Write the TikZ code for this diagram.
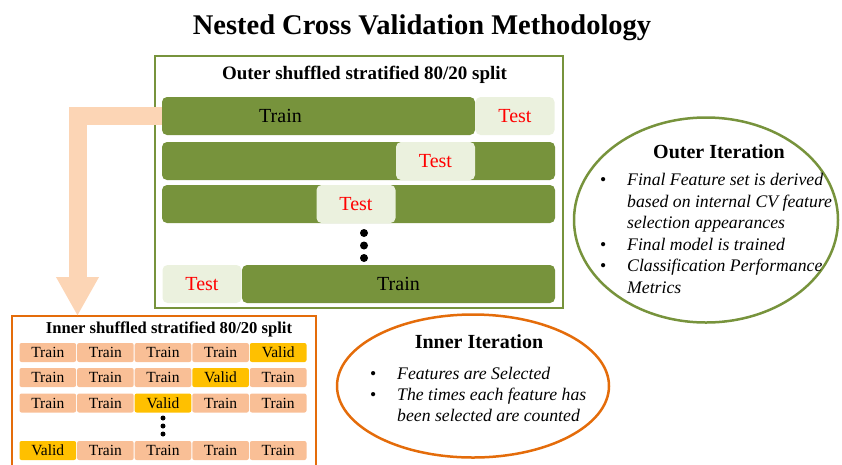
\documentclass[tikz,border=0pt]{standalone}
\usepackage{fontspec}
\setmainfont{Liberation Serif}
\usetikzlibrary{shapes.geometric,arrows.meta}
\definecolor{olive}{HTML}{77933C}
\definecolor{testfill}{HTML}{EBF1DE}
\definecolor{peach}{HTML}{FCD5B5}
\definecolor{orangeline}{HTML}{E46C0A}
\definecolor{cellfill}{HTML}{F9BF96}
\definecolor{validfill}{HTML}{FFC000}
\begin{document}
\begin{tikzpicture}[x=1pt,y=-1pt,
  bar/.style={fill=olive, rounded corners=5pt, inner sep=0pt, minimum height=38pt,
              font=\fontsize{20}{20}\selectfont},
  testbox/.style={fill=testfill, rounded corners=5pt, inner sep=0pt, minimum height=38pt,
              minimum width=79pt, text=red, font=\fontsize{20}{20}\selectfont},
  cell/.style={fill=cellfill, rounded corners=2pt, inner sep=0pt, minimum width=56.6pt,
              minimum height=19pt, font=\fontsize{15.5}{15.5}\selectfont},
  valid/.style={cell, fill=validfill},
  heading/.style={font=\fontsize{20}{20}\selectfont\bfseries, inner sep=0pt},
  item/.style={anchor=west, inner sep=0pt, text height=0.7em, text depth=0.2em,
              font=\fontsize{17.7}{17.7}\selectfont\itshape},
  bullet/.style={item, font=\fontsize{17.7}{17.7}\selectfont},
  dot/.style={circle, fill=black, inner sep=0pt, minimum size=#1}
]
\useasboundingbox (0,0) rectangle (842,464);

% title
\node[font=\fontsize{28.5}{28.5}\selectfont\bfseries, inner sep=0pt] (title) at (422,28)
  {Nested Cross Validation Methodology};

% outer split panel
\draw[olive, line width=2.5pt] (155,56) rectangle (563,308);
\node[font=\fontsize{19}{19}\selectfont\bfseries, inner sep=0pt] (outerhead) at (364.5,75)
  {Outer shuffled stratified 80/20 split};

% fold 1: test on the right
\node[bar, minimum width=313pt, label={[xshift=-38pt, font=\fontsize{20}{20}\selectfont]center:Train}]
  (r1train) at (318.5,116) {};
\node[testbox] (r1test) at (515,116) {Test};
% fold 2
\node[bar, minimum width=393pt] (r2bar) at (358.5,161) {};
\node[testbox] (r2test) at (435.5,161) {Test};
% fold 3
\node[bar, minimum width=393pt] (r3bar) at (358.5,204) {};
\node[testbox] (r3test) at (356,204) {Test};
% more folds
\node[dot=8pt] (od1) at (364,233) {};
\node[dot=8pt] (od2) at (364,245.5) {};
\node[dot=8pt] (od3) at (364,258) {};
% last fold: test on the left
\node[testbox] (r4test) at (202,284) {Test};
\node[bar, minimum width=313pt] (r4train) at (398.5,284) {Train};

% inner split panel (runs off the bottom)
\draw[orangeline, line width=2.5pt] (12,470) |- (316,316) -- (316,470);
\node[font=\fontsize{16.6}{16.6}\selectfont\bfseries, inner sep=0pt] (innerhead) at (169,329)
  {Inner shuffled stratified 80/20 split};

% inner folds: each row lists the position of the validation block
\foreach \row/\y/\v in {1/352.5/5, 2/377.5/4, 3/403/3, 4/450.5/1}{
  \foreach \col in {1,...,5}{
    \pgfmathsetmacro\cx{47.8+57.6*(\col-1)}
    \ifnum\col=\v
      \node[valid] (c\row\col) at (\cx,\y) {Valid};
    \else
      \node[cell] (c\row\col) at (\cx,\y) {Train};
    \fi
  }
}
\node[dot=5pt] (id1) at (163,418) {};
\node[dot=5pt] (id2) at (163,426) {};
\node[dot=5pt] (id3) at (163,434) {};

% hand-off from the outer training set to the inner split
\coordinate (drop) at (77.5,316);
\draw[peach, line width=18pt, -{Triangle[width=40pt, length=39pt]}]
  (r1train.west) -| (drop);

% inner iteration summary
\node[ellipse, draw=orangeline, line width=2.5pt, minimum width=272pt, minimum height=143pt,
      inner sep=0pt] (innerell) at (473,386) {};
\node[heading] (innertitle) at (479,342) {Inner Iteration};
\foreach \b/\txt/\y [count=\i] in {1/Features are Selected/377,
                                   1/The times each feature has/398,
                                   0/been selected are counted/419}{
  \node[item] (il\i) at (397,\y) {\txt};
  \ifnum\b=1 \node[bullet] (ib\i) at (370,\y) {•}; \fi
}

% outer iteration summary
\node[ellipse, draw=olive, line width=2.5pt, minimum width=264pt, minimum height=205pt,
      inner sep=0pt] (outerell) at (706,220) {};
\node[heading] (outertitle) at (719,152) {Outer Iteration};
\foreach \b/\txt/\y [count=\i] in {1/Final Feature set is derived/183,
                                   0/based on internal CV feature/204.5,
                                   0/selection appearances/226,
                                   1/Final model is trained/247.5,
                                   1/Classification Performance/269,
                                   0/Metrics/290.5}{
  \node[item] (ol\i) at (627,\y) {\txt};
  \ifnum\b=1 \node[bullet] (ob\i) at (600,\y) {•}; \fi
}
\end{tikzpicture}
\end{document}
